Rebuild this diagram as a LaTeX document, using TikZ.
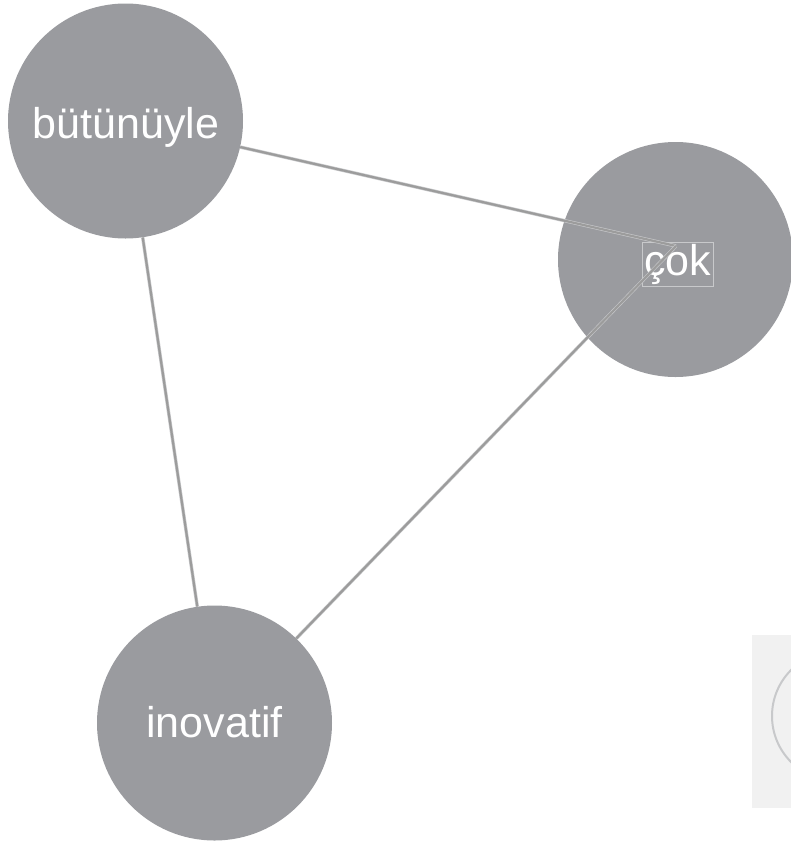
\documentclass[tikz,border=0pt]{standalone}
\usepackage{fontspec}
\setmainfont{Liberation Sans}
\definecolor{bubble}{HTML}{9A9B9F}
\definecolor{edge}{HTML}{9C9C9C}
\definecolor{rim}{HTML}{C8C9CB}
\definecolor{panel}{HTML}{F1F1F1}

\begin{document}
\begin{tikzpicture}[x=1pt, y=-1pt, main/.style = {circle, fill=bubble, minimum size=235pt, inner sep=0pt}, word/.style = {text=white, font=\fontsize{43}{50}\selectfont, anchor=base}, link/.style = {draw=rim, line width=0.6pt, double=edge, double distance=2.2pt}]
			\useasboundingbox (0,0) rectangle (791,847);
			\node[main] (but) at (125.5,121) {};
			\node[main] (cok) at (675.5,259.5) {};
			\node[main] (ino) at (214.5,723) {};
			\node[word] (butw) at (126,138) {bütünüyle};
			\node[word] (inow) at (214.5,737) {inovatif};
			\node[word, draw=rim, line width=0.5pt, inner sep=2pt] (cokw) at (677.5,275) {çok};
			\coordinate (pin) at (676,246);
			\draw[link] (but) -- (pin);
			\draw[link] (ino) -- (pin);
			\draw[link] (but) -- (ino);
			\fill[panel] (752,635) rectangle (791,808);
			\begin{scope}
				\clip (752,635) rectangle (791,808);
				\draw[rim, line width=2pt] (837,716) circle[radius=65pt];
			\end{scope}
		\end{tikzpicture}
\end{document}
